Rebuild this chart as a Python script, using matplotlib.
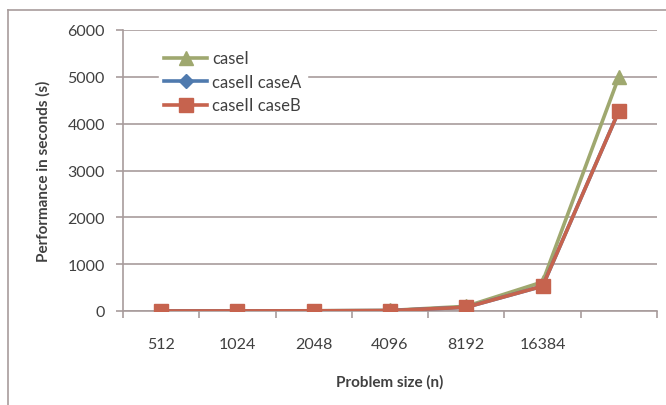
import matplotlib
matplotlib.use("Agg")
import matplotlib.pyplot as plt
from matplotlib.lines import Line2D

# Problem sizes and timings (seconds)
sizes = ["512", "1024", "2048", "4096", "8192", "16384", ""]
case_i = [2, 3, 5, 12, 100, 620, 5000]
case_ii_a = [1, 2, 4, 9, 80, 530, 4270]
case_ii_b = [1, 2, 4, 9, 80, 530, 4270]
series_names = ["caseI", "caseII caseA", "caseII caseB"]
y_ticks = [0, 1000, 2000, 3000, 4000, 5000, 6000]

green = "#9FA86F"
blue = "#4F7AAE"
red = "#C6634E"
grid_c = "#A89C9C"
text_c = "#404040"

plt.rcParams["font.family"] = ["Lato", "DejaVu Sans"]

fig = plt.figure(figsize=(6.66, 4.06), dpi=100)
W, H = 666, 406
ax = fig.add_axes([123 / W, 1 - 312 / H, (657 - 123) / W, (312 - 31) / H])

# outer chart frame (only top and left edges fall inside the image)
fig.add_artist(Line2D([8 / W, 1.0], [1 - 11 / H, 1 - 11 / H], color=grid_c, lw=1.2,
                      transform=fig.transFigure))
fig.add_artist(Line2D([8 / W, 8 / W], [0, 1 - 11 / H], color=grid_c, lw=1.2,
                      transform=fig.transFigure))

x = list(range(len(sizes)))
ax.plot(x, case_i, color=green, lw=2.6, marker="^", ms=10, zorder=3, label=series_names[0])
ax.plot(x, case_ii_a, color=blue, lw=2.6, marker="D", ms=7, zorder=4, label=series_names[1])
ax.plot(x, case_ii_b, color=red, lw=2.6, marker="s", ms=10, zorder=5, label=series_names[2])

ax.set_xlim(-0.5, len(sizes) - 0.5)
ax.set_ylim(0, 6000)
ax.set_yticks(y_ticks)
ax.set_yticklabels([str(v) for v in y_ticks])
ax.set_xticks(x)
ax.set_xticklabels(sizes)
ax.set_xticks([i - 0.5 for i in range(len(sizes) + 1)], minor=True)

ax.grid(axis="y", color=grid_c, lw=1.2)
ax.set_axisbelow(True)
for s in ["top", "right"]:
    ax.spines[s].set_visible(False)
for s in ["left", "bottom"]:
    ax.spines[s].set_color(grid_c)
    ax.spines[s].set_linewidth(1.2)
    ax.spines[s].set_zorder(2)

ax.tick_params(axis="x", which="major", length=0, pad=19, labelsize=11.5, labelcolor=text_c)
ax.tick_params(axis="x", which="minor", length=5, color=grid_c, width=1.2, direction="out")
ax.tick_params(axis="y", length=5, color=grid_c, width=1.2, pad=8, labelsize=11.5,
               labelcolor=text_c)

ax.set_ylabel("Performance in seconds (s)", fontsize=11, fontweight="bold", color=text_c,
              labelpad=12)
ax.set_xlabel("Problem size (n)", fontsize=11, fontweight="bold", color=text_c, labelpad=16)

leg = ax.legend(loc="upper left", bbox_to_anchor=(0.052, 0.975), frameon=True, fancybox=False,
                edgecolor="white", facecolor="white", framealpha=1, fontsize=12,
                handlelength=2.6, handletextpad=0.3, labelspacing=0.45, borderpad=0.3)
for t in leg.get_texts():
    t.set_color(text_c)

fig.savefig("out.png", dpi=100, facecolor="white")
